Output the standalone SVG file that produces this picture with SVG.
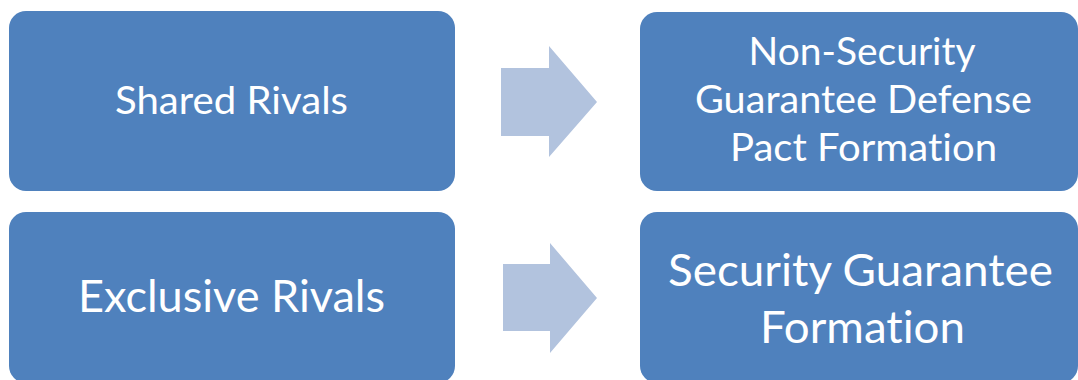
<svg xmlns="http://www.w3.org/2000/svg" width="1078" height="380" viewBox="0 0 1078 380">
  <style>
    .box { fill: #4F81BD; }
    .arrow { fill: #B2C3DE; }
    .label { fill: #FFFFFF; font-family: Lato, "Open Sans", "Liberation Sans", sans-serif; text-anchor: middle; font-variant-ligatures: none; font-feature-settings: "liga" 0, "dlig" 0; }
    .small { font-size: 38.5px; }
    .big { font-size: 44px; }
  </style>
  <rect width="1078" height="380" fill="#FFFFFF"/>

  <g id="shared-rivals">
    <rect class="box" x="9" y="11" width="446" height="180" rx="17" ry="17"/>
    <text class="label small" x="231.5" y="114" textLength="233" lengthAdjust="spacingAndGlyphs">Shared Rivals</text>
  </g>

  <g id="non-security-guarantee">
    <rect class="box" x="640" y="12" width="438" height="179" rx="17" ry="17"/>
    <text class="label small" x="862" y="65" textLength="227" lengthAdjust="spacingAndGlyphs">Non-Security</text>
    <text class="label small" x="863.5" y="113" textLength="337" lengthAdjust="spacingAndGlyphs">Guarantee Defense</text>
    <text class="label small" x="863.5" y="161" textLength="267" lengthAdjust="spacingAndGlyphs">Pact Formation</text>
  </g>

  <g id="exclusive-rivals">
    <rect class="box" x="9" y="212" width="446" height="171" rx="17" ry="17"/>
    <text class="label big" x="231.5" y="312" textLength="307" lengthAdjust="spacingAndGlyphs">Exclusive Rivals</text>
  </g>

  <g id="security-guarantee">
    <rect class="box" x="640" y="212" width="438" height="171" rx="17" ry="17"/>
    <text class="label big" x="860.5" y="286" textLength="385" lengthAdjust="spacingAndGlyphs">Security Guarantee</text>
    <text class="label big" x="862.5" y="343" textLength="205" lengthAdjust="spacingAndGlyphs">Formation</text>
  </g>

  <g id="connectors">
    <polygon class="arrow" points="501,68 549,68 549,46 597,102 549,157 549,136 501,136"/>
    <polygon class="arrow" points="503,264 550,264 550,243 597,298 550,353 550,331 503,331"/>
  </g>
</svg>
